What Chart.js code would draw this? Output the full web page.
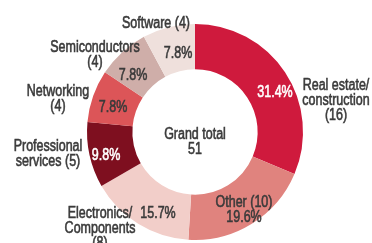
<!DOCTYPE html>
<html>
<head>
<meta charset="utf-8">
<script src="https://cdn.jsdelivr.net/npm/chart.js@4"></script>
<style>
  html, body { margin:0; padding:0; background:#fff; }
  #wrap { width:372px; height:243px; position:relative; }
</style>
</head>
<body>
<div id="wrap"><canvas id="donut"></canvas></div>
<script>
/* ===== Data ===== */
const categories = ['Real estate/construction', 'Other', 'Electronics/Components', 'Professional services', 'Networking', 'Semiconductors', 'Software'];
const counts     = [16, 10, 8, 5, 4, 4, 4];
const colors     = ['#cf1a3d', '#e0837e', '#f2cec9', '#7e0f1f', '#dc5558', '#cfaea9', '#efe0dc'];

// outside label lines per slice
const labelLines = [
  ['Real estate/', 'construction', '(16)'],
  ['Other (10)'],
  ['Electronics/', 'Components', '(8)'],
  ['Professional', 'services (5)'],
  ['Networking', '(4)'],
  ['Semiconductors', '(4)'],
  ['Software (4)']
];

/* ===== Label layout (offsets from donut centre) ===== */
const LAYOUT = [
  { lab:[141,-46], pct:[80,-39],  pctColor:'#fff' },
  { lab:[49,71],   pct:[49,86],   pctColor:'#3a3a3a' },
  { lab:[-95,82],  pct:[-37,82],  pctColor:'#3a3a3a' },
  { lab:[-147,15], pct:[-89,24],  pctColor:'#fff' },
  { lab:[-137,-40],pct:[-82,-24], pctColor:'#3a3a3a' },
  { lab:[-100,-84],pct:[-62,-56], pctColor:'#3a3a3a' },
  { lab:[-39,-108],pct:[-17,-78], pctColor:'#3a3a3a' }
];
const FONT = '16px "Liberation Sans", Arial, sans-serif';
const SQUEEZE = 0.78;   // fake a condensed gothic face
const LINE_H = 15;
const TEXT = '#3a3a3a';

const total = counts.reduce((a,b)=>a+b,0);

function narrowText(ctx, t, x, y){
  ctx.save();
  ctx.translate(x, y);
  ctx.scale(SQUEEZE, 1);
  ctx.strokeStyle = ctx.fillStyle;
  ctx.lineWidth = 0.6;          // a touch heavier, like the original face
  ctx.strokeText(t, 0, 0);
  ctx.fillText(t, 0, 0);
  ctx.restore();
}

const labelPlugin = {
  id: 'donutLabels',
  afterDraw(chart){
    const ctx = chart.ctx;
    const arc0 = chart.getDatasetMeta(0).data[0];
    const cx = arc0.x, cy = arc0.y;
    ctx.save();
    ctx.font = FONT;
    ctx.textAlign = 'center';
    ctx.textBaseline = 'middle';
    counts.forEach((v,i)=>{
      const L = LAYOUT[i];
      ctx.fillStyle = TEXT;
      labelLines[i].forEach((t,k)=> narrowText(ctx, t, cx+L.lab[0], cy+L.lab[1]+k*LINE_H));
      ctx.fillStyle = L.pctColor;
      narrowText(ctx, (v/total*100).toFixed(1)+'%', cx+L.pct[0], cy+L.pct[1]);
    });
    ctx.fillStyle = TEXT;
    narrowText(ctx, 'Grand total', cx, cy+3);
    narrowText(ctx, String(total), cx, cy+3+LINE_H);
    ctx.restore();
  }
};

new Chart(document.getElementById('donut').getContext('2d'), {
  type: 'doughnut',
  data: {
    labels: categories,
    datasets: [{ data: counts, backgroundColor: colors, borderWidth: 0 }]
  },
  options: {
    responsive: true,
    maintainAspectRatio: false,
    animation: false,
    cutout: '58%',
    layout: { padding: { top: 24, bottom: 3, left: 18, right: 0 } },
    plugins: { legend: { display:false }, tooltip: { enabled:false } }
  },
  plugins: [labelPlugin]
});
</script>
</body>
</html>
